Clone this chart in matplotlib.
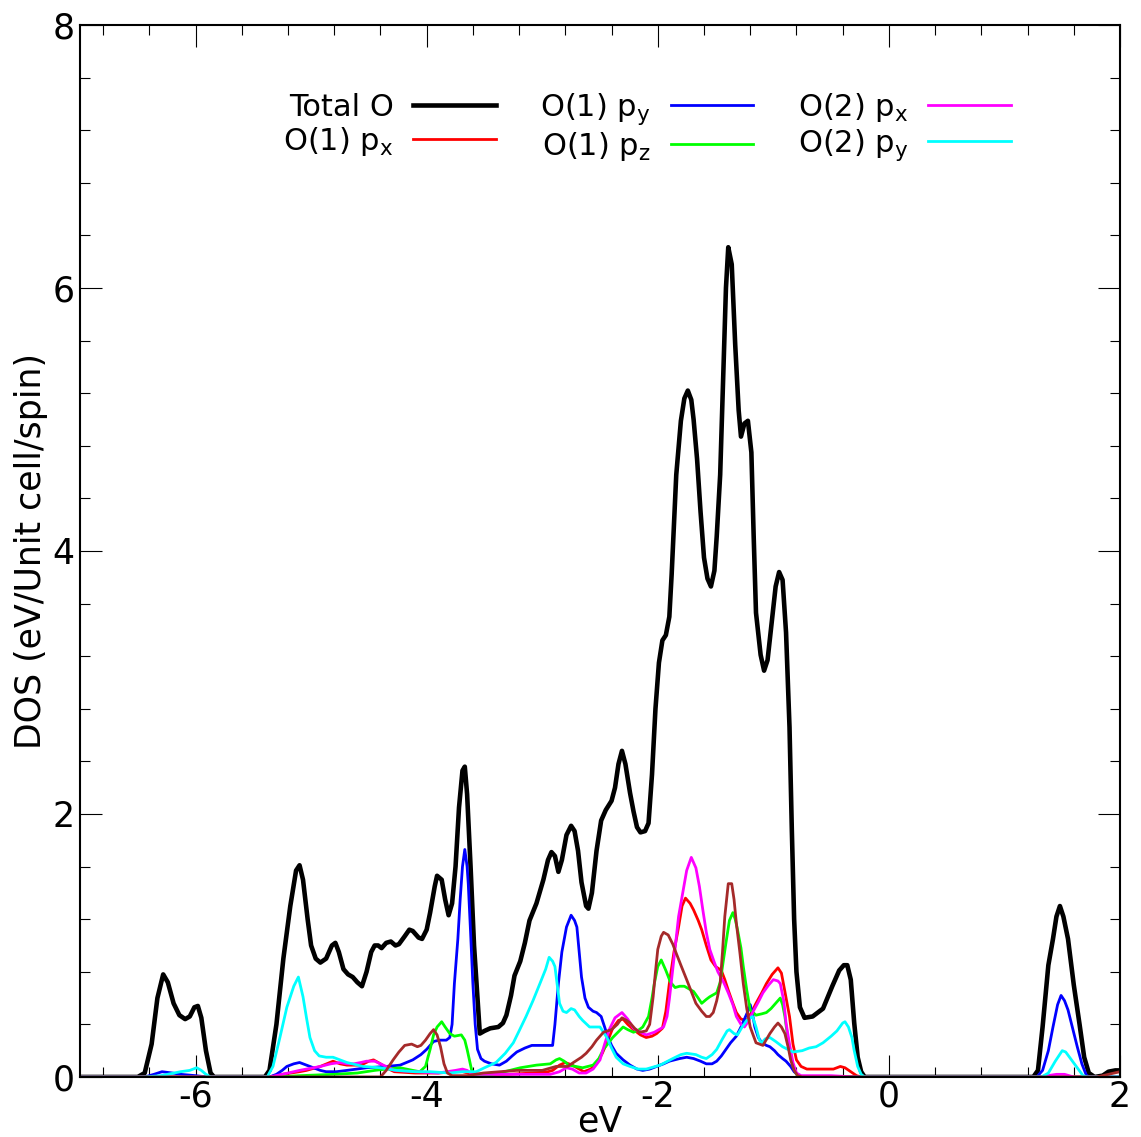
#!/usr/bin/env python3

# Imports

import matplotlib
matplotlib.use("Agg")
import matplotlib.pyplot as plt
from matplotlib.ticker import MultipleLocator

# Data

total_x = [-7.0, -6.5, -6.44, -6.38, -6.33, -6.28, -6.24, -6.19, -6.14, -6.09, -6.05, -6.01, -5.98, -5.95,
           -5.91, -5.87, -5.84, -5.40, -5.36, -5.30, -5.24, -5.18, -5.13, -5.10, -5.07, -5.03, -5.0, -4.96,
           -4.92, -4.87, -4.82, -4.79, -4.76, -4.72, -4.68, -4.64, -4.60, -4.56, -4.52, -4.48, -4.45, -4.42,
           -4.39, -4.35, -4.31, -4.27, -4.24, -4.19, -4.15, -4.12, -4.07, -4.04, -4.0, -3.97, -3.93, -3.91,
           -3.87, -3.84, -3.81, -3.78, -3.75, -3.72, -3.69, -3.67, -3.65, -3.62, -3.59, -3.56, -3.54, -3.5,
           -3.45, -3.38, -3.34, -3.31, -3.27, -3.24, -3.19, -3.15, -3.11, -3.05, -2.99, -2.95, -2.92, -2.89,
           -2.86, -2.83, -2.79, -2.75, -2.72, -2.69, -2.66, -2.62, -2.60, -2.57, -2.53, -2.49, -2.45, -2.40,
           -2.37, -2.34, -2.31, -2.28, -2.24, -2.21, -2.18, -2.15, -2.11, -2.08, -2.05, -2.02, -1.99, -1.96,
           -1.93, -1.90, -1.88, -1.84, -1.80, -1.77, -1.74, -1.71, -1.69, -1.66, -1.63, -1.60, -1.57, -1.54,
           -1.51, -1.49, -1.46, -1.43, -1.41, -1.39, -1.36, -1.33, -1.30, -1.28, -1.25, -1.22, -1.19, -1.17,
           -1.15, -1.11, -1.08, -1.05, -1.02, -0.98, -0.95, -0.92, -0.89, -0.86, -0.84, -0.82, -0.80, -0.77,
           -0.73, -0.66, -0.57, -0.49, -0.43, -0.39, -0.36, -0.33, -0.30, -0.27, -0.24, -0.21, 1.25, 1.29,
           1.33, 1.38, 1.42, 1.45, 1.48, 1.51, 1.55, 1.60, 1.65, 1.69, 1.73, 1.78, 1.85, 1.90, 1.96, 2.0]
total_y = [0.0, 0.0, 0.03, 0.25, 0.6, 0.78, 0.72, 0.56, 0.47, 0.44, 0.46, 0.53, 0.54, 0.45,
           0.2, 0.03, 0.0, 0.0, 0.05, 0.4, 0.9, 1.3, 1.57, 1.61, 1.5, 1.2, 1.0, 0.9,
           0.87, 0.9, 1.0, 1.02, 0.95, 0.82, 0.78, 0.76, 0.72, 0.69, 0.8, 0.95, 1.0, 1.0,
           0.98, 1.02, 1.03, 1.0, 1.01, 1.07, 1.12, 1.11, 1.06, 1.05, 1.12, 1.25, 1.45, 1.53,
           1.5, 1.35, 1.23, 1.32, 1.6, 2.05, 2.33, 2.36, 2.15, 1.6, 1.0, 0.6, 0.33, 0.35,
           0.37, 0.38, 0.41, 0.47, 0.62, 0.77, 0.88, 1.02, 1.19, 1.32, 1.50, 1.65, 1.71, 1.68,
           1.56, 1.65, 1.84, 1.91, 1.87, 1.72, 1.48, 1.30, 1.28, 1.40, 1.72, 1.95, 2.03, 2.10,
           2.2, 2.38, 2.48, 2.38, 2.16, 2.02, 1.90, 1.86, 1.87, 1.93, 2.3, 2.8, 3.15, 3.32,
           3.36, 3.5, 3.82, 4.58, 4.99, 5.16, 5.22, 5.15, 5.0, 4.7, 4.3, 3.95, 3.79, 3.73,
           3.85, 4.11, 4.58, 5.42, 6.0, 6.31, 6.18, 5.57, 5.07, 4.87, 4.97, 4.99, 4.75, 4.11,
           3.53, 3.21, 3.09, 3.17, 3.41, 3.73, 3.84, 3.78, 3.38, 2.66, 1.88, 1.2, 0.8, 0.53,
           0.45, 0.46, 0.52, 0.69, 0.81, 0.85, 0.85, 0.74, 0.41, 0.15, 0.04, 0.0, 0.0, 0.05,
           0.38, 0.85, 1.05, 1.22, 1.3, 1.22, 1.05, 0.7, 0.4, 0.15, 0.03, 0.0, 0.01, 0.04, 0.05, 0.05]

o1px_x = [-7.0, -5.36, -5.25, -5.10, -5.04, -4.92, -4.81, -4.75, -4.69, -4.57, -4.50, -4.46, -4.40, -4.35,
          -4.28, -4.1, -3.9, -3.75, -3.69, -3.60, -3.3, -3.08, -2.95, -2.91, -2.85, -2.80, -2.74, -2.70,
          -2.64, -2.58, -2.53, -2.48, -2.44, -2.39, -2.34, -2.30, -2.26, -2.21, -2.15, -2.10, -2.05, -2.01,
          -1.96, -1.93, -1.90, -1.86, -1.82, -1.79, -1.76, -1.72, -1.69, -1.65, -1.62, -1.58, -1.54, -1.50,
          -1.45, -1.42, -1.39, -1.35, -1.32, -1.28, -1.23, -1.19, -1.15, -1.10, -1.06, -1.01, -0.96, -0.93,
          -0.90, -0.86, -0.83, -0.80, -0.76, -0.71, -0.55, -0.48, -0.42, -0.38, -0.33, -0.28, -0.24, 2.0]
o1px_y = [0.0, 0.0, 0.02, 0.04, 0.05, 0.08, 0.12, 0.10, 0.09, 0.09, 0.12, 0.13, 0.10, 0.07,
          0.04, 0.03, 0.03, 0.04, 0.04, 0.02, 0.02, 0.03, 0.04, 0.05, 0.09, 0.11, 0.09, 0.07,
          0.04, 0.06, 0.10, 0.18, 0.26, 0.37, 0.43, 0.44, 0.40, 0.36, 0.32, 0.30, 0.31, 0.33,
          0.37, 0.50, 0.71, 0.95, 1.14, 1.30, 1.36, 1.32, 1.27, 1.19, 1.12, 1.0, 0.89, 0.84,
          0.81, 0.74, 0.66, 0.56, 0.49, 0.44, 0.43, 0.49, 0.56, 0.64, 0.71, 0.78, 0.83, 0.79,
          0.65, 0.46, 0.25, 0.13, 0.08, 0.06, 0.06, 0.06, 0.08, 0.07, 0.04, 0.01, 0.0, 0.0]

o1py_x = [-7.0, -6.44, -6.36, -6.29, -6.2, -6.13, -6.0, -5.9, -5.36, -5.30, -5.25, -5.21, -5.15, -5.10,
          -5.04, -4.98, -4.92, -4.87, -4.78, -4.69, -4.52, -4.35, -4.23, -4.12, -4.05, -4.0, -3.94, -3.89,
          -3.83, -3.80, -3.78, -3.76, -3.73, -3.71, -3.69, -3.67, -3.65, -3.64, -3.62, -3.60, -3.58, -3.56,
          -3.53, -3.50, -3.44, -3.37, -3.31, -3.26, -3.22, -3.15, -3.09, -3.0, -2.91, -2.89, -2.86, -2.83,
          -2.79, -2.75, -2.72, -2.70, -2.68, -2.66, -2.63, -2.60, -2.56, -2.53, -2.49, -2.46, -2.43, -2.40,
          -2.36, -2.30, -2.24, -2.18, -2.13, -2.07, -2.01, -1.95, -1.90, -1.81, -1.75, -1.69, -1.63, -1.58,
          -1.53, -1.49, -1.45, -1.41, -1.37, -1.32, -1.28, -1.25, -1.22, -1.20, -1.18, -1.16, -1.13, -1.10,
          -1.06, -1.03, -0.99, -0.96, -0.92, -0.89, -0.85, -0.82, -0.78, -0.74, 1.28, 1.33, 1.38, 1.42,
          1.46, 1.49, 1.52, 1.55, 1.59, 1.63, 1.67, 1.71, 1.75, 2.0]
o1py_y = [0.0, 0.0, 0.02, 0.04, 0.03, 0.02, 0.01, 0.0, 0.0, 0.02, 0.05, 0.08, 0.10, 0.11,
          0.09, 0.07, 0.05, 0.04, 0.04, 0.05, 0.07, 0.08, 0.09, 0.13, 0.17, 0.21, 0.27, 0.28,
          0.28, 0.30, 0.4, 0.71, 1.05, 1.35, 1.6, 1.73, 1.6, 1.47, 1.1, 0.71, 0.4, 0.21,
          0.14, 0.12, 0.10, 0.09, 0.12, 0.16, 0.19, 0.22, 0.24, 0.24, 0.24, 0.4, 0.71, 0.95,
          1.14, 1.23, 1.19, 1.14, 0.95, 0.76, 0.6, 0.53, 0.50, 0.49, 0.46, 0.38, 0.30, 0.24,
          0.18, 0.13, 0.09, 0.06, 0.05, 0.06, 0.08, 0.10, 0.12, 0.14, 0.15, 0.14, 0.12, 0.10,
          0.10, 0.12, 0.16, 0.21, 0.26, 0.31, 0.38, 0.44, 0.50, 0.55, 0.48, 0.38, 0.30, 0.26,
          0.24, 0.23, 0.20, 0.17, 0.14, 0.12, 0.08, 0.04, 0.01, 0.0, 0.0, 0.05, 0.2, 0.38,
          0.55, 0.62, 0.58, 0.51, 0.37, 0.23, 0.1, 0.01, 0.0, 0.0]

o1pz_x = [-7.0, -5.3, -5.1, -4.8, -4.6, -4.45, -4.35, -4.23, -4.12, -4.06, -4.01, -3.97, -3.94, -3.91,
          -3.87, -3.84, -3.80, -3.76, -3.70, -3.67, -3.65, -3.61, -3.57, -3.50, -3.37, -3.19, -3.05, -2.93,
          -2.88, -2.85, -2.81, -2.77, -2.65, -2.56, -2.51, -2.47, -2.39, -2.30, -2.26, -2.21, -2.16, -2.13,
          -2.08, -2.05, -2.03, -2.0, -1.97, -1.93, -1.89, -1.85, -1.81, -1.77, -1.73, -1.69, -1.65, -1.62,
          -1.58, -1.55, -1.49, -1.46, -1.44, -1.41, -1.38, -1.35, -1.33, -1.31, -1.28, -1.26, -1.23, -1.20,
          -1.15, -1.10, -1.06, -1.02, -0.99, -0.94, -0.92, -0.90, -0.88, -0.86, -0.83, -0.80, -0.76, 2.0]
o1pz_y = [0.0, 0.0, 0.01, 0.02, 0.03, 0.05, 0.06, 0.07, 0.05, 0.04, 0.08, 0.21, 0.32, 0.38,
          0.42, 0.38, 0.33, 0.31, 0.32, 0.28, 0.21, 0.05, 0.01, 0.01, 0.03, 0.07, 0.09, 0.10,
          0.13, 0.14, 0.12, 0.09, 0.07, 0.09, 0.14, 0.21, 0.30, 0.38, 0.36, 0.34, 0.36, 0.38,
          0.46, 0.6, 0.71, 0.84, 0.89, 0.81, 0.72, 0.68, 0.69, 0.69, 0.67, 0.65, 0.60, 0.56,
          0.59, 0.61, 0.64, 0.72, 0.84, 1.02, 1.19, 1.25, 1.2, 1.12, 0.98, 0.84, 0.66, 0.51,
          0.47, 0.48, 0.49, 0.52, 0.55, 0.60, 0.55, 0.46, 0.33, 0.21, 0.08, 0.02, 0.0, 0.0]

o2px_x = [-7.0, -5.36, -5.25, -5.10, -5.04, -4.92, -4.83, -4.75, -4.69, -4.63, -4.57, -4.52, -4.45, -4.40,
          -4.35, -4.28, -4.1, -3.9, -3.75, -3.69, -3.65, -3.60, -3.3, -2.93, -2.85, -2.79, -2.74, -2.68,
          -2.62, -2.56, -2.50, -2.46, -2.42, -2.37, -2.31, -2.26, -2.21, -2.15, -2.10, -2.03, -1.95, -1.92,
          -1.90, -1.86, -1.82, -1.78, -1.75, -1.71, -1.67, -1.64, -1.61, -1.58, -1.55, -1.51, -1.48, -1.43,
          -1.39, -1.35, -1.32, -1.28, -1.25, -1.21, -1.18, -1.13, -1.09, -1.04, -1.00, -0.96, -0.94, -0.91,
          -0.89, -0.86, -0.83, -0.80, -0.76, -0.5, -0.3, 1.3, 1.45, 1.52, 1.6, 2.0]
o2px_y = [0.0, 0.0, 0.02, 0.05, 0.06, 0.08, 0.10, 0.11, 0.10, 0.10, 0.11, 0.12, 0.12, 0.10,
          0.08, 0.05, 0.04, 0.03, 0.05, 0.06, 0.05, 0.02, 0.02, 0.02, 0.04, 0.07, 0.06, 0.03,
          0.03, 0.06, 0.13, 0.25, 0.36, 0.45, 0.49, 0.44, 0.37, 0.34, 0.32, 0.34, 0.38, 0.46,
          0.59, 0.9, 1.22, 1.42, 1.57, 1.67, 1.59, 1.45, 1.27, 1.1, 0.97, 0.87, 0.80, 0.72,
          0.64, 0.55, 0.46, 0.40, 0.38, 0.43, 0.49, 0.57, 0.64, 0.70, 0.74, 0.73, 0.71, 0.58,
          0.41, 0.25, 0.11, 0.03, 0.01, 0.01, 0.0, 0.0, 0.02, 0.02, 0.0, 0.0]

o2py_x = [-7.0, -6.44, -6.3, -6.13, -6.05, -5.99, -5.95, -5.91, -5.87, -5.38, -5.33, -5.27, -5.21, -5.15,
          -5.11, -5.07, -5.04, -5.01, -4.97, -4.93, -4.87, -4.81, -4.75, -4.69, -4.55, -4.40, -4.26, -4.1,
          -3.97, -3.80, -3.69, -3.57, -3.50, -3.40, -3.32, -3.25, -3.20, -3.14, -3.08, -3.02, -2.97, -2.94,
          -2.91, -2.89, -2.87, -2.85, -2.82, -2.79, -2.75, -2.72, -2.68, -2.65, -2.59, -2.53, -2.50, -2.47,
          -2.44, -2.40, -2.36, -2.30, -2.24, -2.17, -2.10, -1.98, -1.87, -1.80, -1.75, -1.67, -1.62, -1.58,
          -1.53, -1.49, -1.44, -1.40, -1.38, -1.34, -1.31, -1.27, -1.23, -1.18, -1.15, -1.12, -1.10, -1.07,
          -1.03, -0.98, -0.92, -0.83, -0.75, -0.69, -0.63, -0.57, -0.50, -0.45, -0.40, -0.38, -0.35, -0.32,
          -0.30, -0.27, -0.24, -0.21, 1.32, 1.38, 1.44, 1.50, 1.53, 1.58, 1.63, 1.68, 1.72, 2.0]
o2py_y = [0.0, 0.0, 0.01, 0.04, 0.05, 0.07, 0.05, 0.02, 0.0, 0.0, 0.08, 0.30, 0.53, 0.69,
          0.76, 0.61, 0.45, 0.30, 0.2, 0.16, 0.15, 0.15, 0.13, 0.11, 0.08, 0.07, 0.05, 0.04,
          0.04, 0.03, 0.04, 0.04, 0.07, 0.11, 0.18, 0.26, 0.35, 0.46, 0.58, 0.71, 0.82, 0.91,
          0.88, 0.84, 0.7, 0.56, 0.50, 0.49, 0.52, 0.51, 0.46, 0.43, 0.38, 0.38, 0.38, 0.34,
          0.30, 0.22, 0.15, 0.10, 0.08, 0.06, 0.06, 0.09, 0.14, 0.17, 0.18, 0.17, 0.15, 0.14,
          0.17, 0.21, 0.29, 0.35, 0.36, 0.33, 0.32, 0.38, 0.43, 0.46, 0.38, 0.28, 0.26, 0.29,
          0.30, 0.27, 0.23, 0.19, 0.20, 0.22, 0.23, 0.26, 0.31, 0.35, 0.41, 0.42, 0.38, 0.30,
          0.2, 0.08, 0.02, 0.0, 0.0, 0.03, 0.12, 0.20, 0.19, 0.13, 0.07, 0.01, 0.0, 0.0]

# seventh set, not in the legend
extra_x = [-7.0, -4.40, -4.35, -4.29, -4.24, -4.19, -4.13, -4.08, -4.05, -4.01, -3.97, -3.94, -3.91, -3.88,
           -3.85, -3.82, -3.78, -3.65, -3.51, -3.22, -3.0, -2.88, -2.78, -2.73, -2.66, -2.62, -2.57, -2.53,
           -2.47, -2.40, -2.35, -2.31, -2.27, -2.24, -2.20, -2.16, -2.10, -2.07, -2.04, -2.02, -2.0, -1.97,
           -1.95, -1.91, -1.87, -1.84, -1.80, -1.75, -1.71, -1.67, -1.62, -1.58, -1.55, -1.52, -1.49, -1.46,
           -1.44, -1.42, -1.39, -1.36, -1.34, -1.32, -1.29, -1.26, -1.23, -1.20, -1.15, -1.09, -1.03, -0.99,
           -0.96, -0.93, -0.90, -0.87, -0.85, -0.82, -0.79, -0.75, 1.8, 1.9, 2.0]
extra_y = [0.0, 0.0, 0.05, 0.13, 0.19, 0.24, 0.25, 0.23, 0.24, 0.28, 0.33, 0.36, 0.32, 0.23,
           0.10, 0.03, 0.01, 0.01, 0.03, 0.05, 0.05, 0.08, 0.08, 0.11, 0.15, 0.18, 0.23, 0.28,
           0.34, 0.36, 0.40, 0.45, 0.43, 0.41, 0.37, 0.34, 0.35, 0.40, 0.61, 0.80, 0.97, 1.07,
           1.10, 1.08, 1.01, 0.94, 0.85, 0.74, 0.65, 0.56, 0.50, 0.46, 0.46, 0.49, 0.58, 0.71,
           0.95, 1.22, 1.47, 1.47, 1.35, 1.17, 0.95, 0.71, 0.52, 0.38, 0.26, 0.24, 0.33, 0.38,
           0.41, 0.38, 0.33, 0.22, 0.13, 0.05, 0.01, 0.0, 0.0, 0.02, 0.04]

# Plot

plt.rcParams["font.family"] = "DejaVu Sans"
plt.rcParams["axes.unicode_minus"] = False

fig = plt.figure(figsize=(11.41, 11.37), dpi=100)
ax = fig.add_axes([0.0701, 0.0528, 0.9115, 0.9252])

ax.plot(total_x, total_y, color="black", lw=3.3, label="Total O")
ax.plot(o1px_x, o1px_y, color="#ff0000", lw=2.0, label="O(1) p$_\\mathregular{x}$")
ax.plot(o1py_x, o1py_y, color="#0000ff", lw=2.0, label="O(1) p$_\\mathregular{y}$")
ax.plot(o1pz_x, o1pz_y, color="#00ff00", lw=2.0, label="O(1) p$_\\mathregular{z}$")
ax.plot(o2px_x, o2px_y, color="#ff00ff", lw=2.0, label="O(2) p$_\\mathregular{x}$")
ax.plot(o2py_x, o2py_y, color="#00ffff", lw=2.0, label="O(2) p$_\\mathregular{y}$")
ax.plot(extra_x, extra_y, color="#a52a2a", lw=2.0)

ax.set_xlim(-7, 2)
ax.set_ylim(0, 8)
ax.xaxis.set_major_locator(MultipleLocator(2))
ax.xaxis.set_minor_locator(MultipleLocator(0.4))
ax.yaxis.set_major_locator(MultipleLocator(2))
ax.yaxis.set_minor_locator(MultipleLocator(0.4))
ax.tick_params(which="both", direction="in", top=True, right=True, width=0.8, labelsize=25)
ax.tick_params(which="major", length=15.8, pad=4)
ax.tick_params(which="minor", length=7.2)
ax.tick_params(axis="x", which="major", pad=2)
for sp in ax.spines.values():
    sp.set_linewidth(1.5)

ax.set_xlabel("eV", fontsize=25, labelpad=-7)
ax.set_ylabel("DOS (eV/Unit cell/spin)", fontsize=25, labelpad=3)

ax.legend(ncol=3, markerfirst=False, frameon=False, fontsize=22,
          loc="upper right", bbox_to_anchor=(0.9095, 0.952), borderpad=0,
          handlelength=2.7, handletextpad=0.65, columnspacing=1.45, labelspacing=0.1)

plt.savefig("out.png", dpi=100)
